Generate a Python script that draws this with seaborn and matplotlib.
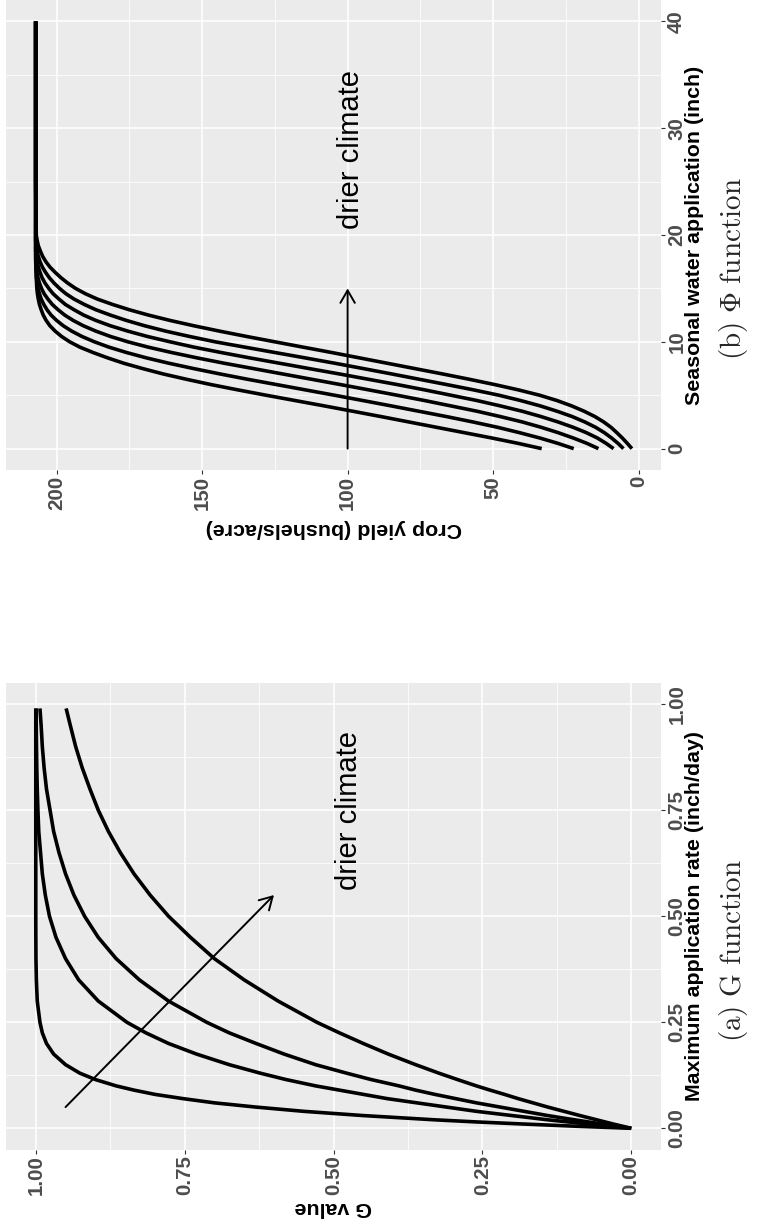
import matplotlib
matplotlib.use("Agg")
import numpy as np
import pandas as pd
import matplotlib.pyplot as plt
import seaborn as sns
from matplotlib.ticker import FixedLocator, FixedFormatter

# ---------------- data: panel (a) G function ----------------
rate = [0, 0.005, 0.01, 0.015, 0.02, 0.025, 0.03, 0.04, 0.05, 0.06, 0.07, 0.08, 0.09,
        0.1, 0.115, 0.13, 0.15, 0.175, 0.2, 0.225, 0.25, 0.3, 0.35, 0.4, 0.45, 0.5,
        0.55, 0.6, 0.65, 0.7, 0.75, 0.8, 0.85, 0.9, 0.95, 0.99]
g_curve1 = [0, 0.095, 0.18, 0.26, 0.33, 0.39, 0.45, 0.55, 0.63, 0.70, 0.753, 0.80, 0.835,
            0.865, 0.90, 0.926, 0.95, 0.97, 0.982, 0.989, 0.993, 0.9975, 0.999, 0.9997,
            0.9999, 1.0, 1.0, 1.0, 1.0, 1.0, 1.0, 1.0, 1.0, 1.0, 1.0, 1.0]
g_curve2 = [0, 0.037, 0.072, 0.106, 0.14, 0.17, 0.20, 0.26, 0.31, 0.36, 0.41, 0.45, 0.49,
            0.53, 0.58, 0.623, 0.675, 0.73, 0.777, 0.815, 0.847, 0.895, 0.928, 0.95,
            0.966, 0.977, 0.984, 0.989, 0.992, 0.995, 0.9964, 0.9975, 0.9983, 0.9988,
            0.9992, 0.9994]
g_curve3 = [0, 0.025, 0.049, 0.072, 0.095, 0.118, 0.14, 0.18, 0.22, 0.26, 0.295, 0.33,
            0.362, 0.39, 0.437, 0.478, 0.53, 0.583, 0.63, 0.675, 0.713, 0.777, 0.826,
            0.865, 0.895, 0.918, 0.936, 0.95, 0.961, 0.97, 0.976, 0.982, 0.986, 0.989,
            0.991, 0.993]
g_curve4 = [0, 0.015, 0.03, 0.044, 0.058, 0.072, 0.086, 0.113, 0.14, 0.165, 0.19, 0.213,
            0.237, 0.26, 0.292, 0.323, 0.362, 0.408, 0.45, 0.49, 0.528, 0.593, 0.65,
            0.70, 0.74, 0.777, 0.808, 0.835, 0.858, 0.878, 0.895, 0.909, 0.922, 0.933,
            0.942, 0.949]
g_ticks = [0, 0.25, 0.5, 0.75, 1.0]
g_ticklabels = ["0.00", "0.25", "0.50", "0.75", "1.00"]
rate_ticks = [0, 0.25, 0.5, 0.75, 1.0]
rate_ticklabels = ["0.00", "0.25", "0.50", "0.75", "1.00"]
arrow_a_from = (0.95, 0.05)
arrow_a_to = (0.60, 0.55)

# ---------------- data: panel (b) Phi function ----------------
water = [0, 0.5, 1, 1.5, 2, 2.5, 3, 3.5, 4, 4.5, 5, 5.5, 6, 6.5, 7, 7.5, 8, 8.5, 9, 9.5,
         10, 10.5, 11, 11.5, 12, 12.5, 13, 13.5, 14, 14.5, 15, 15.5, 16, 16.5, 17, 17.5,
         18, 18.5, 19, 19.5, 20, 25, 30, 35, 40]
yield_c1 = [33.3, 41.5, 50.5, 60, 69.5, 79, 88.5, 98.2, 108, 118, 128, 137.7, 147, 155.5,
            163.5, 170.5, 177, 182.5, 187.5, 192, 195.5, 198.3, 200.5, 202.3, 203.6,
            204.6, 205.3, 205.9, 206.3, 206.6, 206.8, 206.9, 207.0, 207.05, 207.1,
            207.15, 207.2, 207.2, 207.2, 207.2, 207.2, 207.2, 207.2, 207.2, 207.2]
yield_c2 = [22.3, 27.8, 34, 41, 48.5, 57, 66, 75.5, 85, 94.7, 104.5, 114.5, 124.5, 134.5,
            144, 153, 161.5, 169.2, 176, 182, 187, 191.3, 194.8, 197.7, 200, 201.9,
            203.3, 204.4, 205.3, 205.9, 206.4, 206.7, 206.9, 207.0, 207.1, 207.2, 207.2,
            207.2, 207.2, 207.2, 207.2, 207.2, 207.2, 207.2, 207.2]
yield_c3 = [13.8, 17.8, 22.5, 27.7, 33.5, 40, 47.5, 55.5, 64.5, 73.5, 83, 92.7, 102.5,
            112.5, 122.5, 132.5, 142.5, 151.8, 160.5, 168.5, 175.5, 181.5, 186.5, 190.8,
            194.3, 197.2, 199.5, 201.5, 203, 204.3, 205.2, 205.9, 206.4, 206.8, 207.0,
            207.1, 207.1, 207.2, 207.2, 207.2, 207.2, 207.2, 207.2, 207.2, 207.2]
yield_c4 = [8.6, 11.2, 14.2, 18, 22.5, 27.7, 33.5, 40, 47.5, 55.5, 64.5, 73.5, 83, 93, 103,
            113.3, 123.5, 133.7, 143.5, 152.8, 161, 168.8, 175.5, 181.5, 186.5, 190.7,
            194, 197, 199.2, 201.2, 202.7, 204, 205, 205.7, 206.3, 206.6, 206.9, 207.0,
            207.1, 207.2, 207.2, 207.2, 207.2, 207.2, 207.2]
yield_c5 = [5.2, 7.1, 9.3, 11.8, 14.8, 18.5, 22.8, 28, 33.8, 40.5, 48, 56.7, 66, 75.5, 85,
            94.7, 104.5, 114.7, 125, 135.3, 145.5, 154.3, 162.5, 169.7, 176, 181.5,
            186.5, 190.5, 194, 196.8, 199, 200.9, 202.5, 203.8, 204.9, 205.7, 206.3,
            206.7, 207.0, 207.1, 207.1, 207.2, 207.2, 207.2, 207.2]
yield_c6 = [2.3, 3.9, 5.6, 7.5, 9.5, 12.0, 15, 18.7, 23, 28, 34, 41.3, 49.5, 58.3, 67.5,
            77, 86.5, 96, 105.5, 115.3, 125, 134.7, 144, 152.8, 161, 168.4, 175, 180.8,
            186, 190.1, 193.5, 196.2, 198.5, 200.5, 202.3, 203.7, 204.8, 205.6, 206.3,
            206.7, 207.0, 207.2, 207.2, 207.2, 207.2]
yield_ticks = [0, 50, 100, 150, 200]
yield_ticklabels = ["0", "50", "100", "150", "200"]
water_ticks = [0, 10, 20, 30, 40]
water_ticklabels = ["0", "10", "20", "30", "40"]
arrow_b_from = (100, 0)
arrow_b_to = (100, 15)

# ---------------- style ----------------
sns.set_theme(style="darkgrid", rc={"axes.facecolor": "#EBEBEB", "grid.color": "white"})
plt.rcParams["font.family"] = ["Liberation Sans", "DejaVu Sans"]
plt.rcParams["mathtext.fontset"] = "cm"

W, H = 759, 1230
fig = plt.figure(figsize=(W / 100, H / 100), dpi=100)
fig.patch.set_facecolor("white")


def px_axes(left, top, right, bottom):
    return fig.add_axes([left / W, 1 - bottom / H, (right - left) / W, (bottom - top) / H])


ax_b = px_axes(6, 0, 661, 470)
ax_a = px_axes(6, 683, 661, 1149.5)

# long-form data
df_a = pd.concat([
    pd.DataFrame({"G": g, "rate": rate, "curve": name})
    for name, g in [("k1", g_curve1), ("k2", g_curve2), ("k3", g_curve3), ("k4", g_curve4)]
], ignore_index=True)
df_b = pd.concat([
    pd.DataFrame({"yield": y, "water": water, "curve": name})
    for name, y in [("c1", yield_c1), ("c2", yield_c2), ("c3", yield_c3),
                    ("c4", yield_c4), ("c5", yield_c5), ("c6", yield_c6)]
], ignore_index=True)

line_kw = dict(color="black", linewidth=2.6, estimator=None, sort=False,
               legend=False, solid_capstyle="butt", solid_joinstyle="round")
sns.lineplot(data=df_a, x="G", y="rate", units="curve", ax=ax_a, **line_kw)
sns.lineplot(data=df_b, x="yield", y="water", units="curve", ax=ax_b, **line_kw)


def midpoints(t):
    return [(a + b) / 2 for a, b in zip(t[:-1], t[1:])]


def style_axes(ax, xlim, ylim, xt, xtl, yt, ytl, xlabel, ylabel, h_px):
    ax.set_facecolor("#EBEBEB")
    ax.set_xlim(*xlim)
    ax.set_ylim(*ylim)
    ax.xaxis.set_major_locator(FixedLocator(xt))
    ax.xaxis.set_major_formatter(FixedFormatter(xtl))
    ax.xaxis.set_minor_locator(FixedLocator(midpoints(xt)))
    ax.yaxis.set_major_locator(FixedLocator(yt))
    ax.yaxis.set_major_formatter(FixedFormatter(ytl))
    ax.yaxis.set_minor_locator(FixedLocator(midpoints(yt)))
    ax.grid(which="major", color="white", linewidth=1.1)
    ax.grid(which="minor", color="white", linewidth=0.55)
    ax.set_axisbelow(True)
    for s in ax.spines.values():
        s.set_visible(False)
    ax.yaxis.tick_right()
    ax.yaxis.set_label_position("right")
    ax.tick_params(axis="x", which="major", bottom=True, top=False, length=3, width=0.8,
                   color="#333333", pad=1.2, labelsize=14.8, labelcolor="#4D4D4D",
                   labelrotation=90)
    ax.tick_params(axis="y", which="major", right=True, left=False, labelright=True,
                   labelleft=False, length=3, width=0.8, color="#333333", pad=1.5,
                   labelsize=14.8, labelcolor="#4D4D4D", labelrotation=90)
    ax.tick_params(which="minor", length=0)
    plt.setp(ax.xaxis.get_majorticklabels(), fontweight="bold")
    plt.setp(ax.yaxis.get_majorticklabels(), fontweight="bold", va="center")
    ax.set_xlabel(xlabel, fontsize=15.4, fontweight="bold", color="black", rotation=180)
    ax.xaxis.set_label_coords(0.5, -49 / h_px)
    ax.set_ylabel(ylabel, fontsize=15.4, fontweight="bold", color="black", rotation=90)
    ax.yaxis.set_label_coords((685 - 6) / 655, 0.5)


style_axes(ax_a, (1.05, -0.05), (-0.05, 1.05), g_ticks, g_ticklabels, rate_ticks,
           rate_ticklabels, "G value", "Maximum application rate (inch/day)", 466.5)
style_axes(ax_b, (217.4, -7.7), (-2, 42), yield_ticks, yield_ticklabels, water_ticks,
           water_ticklabels, "Crop yield (bushels/acre)", "Seasonal water application (inch)", 470)

# arrows and annotations
arrow_kw = dict(arrowstyle="->,head_length=0.45,head_width=0.26", color="black", lw=1.4,
                shrinkA=0, shrinkB=0, mutation_scale=20)
ax_a.annotate("", xy=arrow_a_to, xytext=arrow_a_from, arrowprops=arrow_kw)
ax_b.annotate("", xy=arrow_b_to, xytext=arrow_b_from, arrowprops=arrow_kw)

ax_a.text(0.474, 0.75, "drier climate", rotation=90, ha="center", va="center",
          fontsize=21, fontweight="normal", color="black")
ax_b.text(98.8, 28, "drier climate", rotation=90, ha="center", va="center",
          fontsize=21, fontweight="normal", color="black")

# subfigure captions
fig.text(734 / W, 1 - 950 / H, r"$\mathrm{(a)}\ \mathrm{G}\ \mathrm{function}$",
         rotation=90, ha="center", va="center", fontsize=21)
fig.text(734 / W, 1 - 269 / H, r"$\mathrm{(b)}\ \Phi\ \mathrm{function}$",
         rotation=90, ha="center", va="center", fontsize=21)

fig.savefig("out.png", dpi=100, facecolor="white")
